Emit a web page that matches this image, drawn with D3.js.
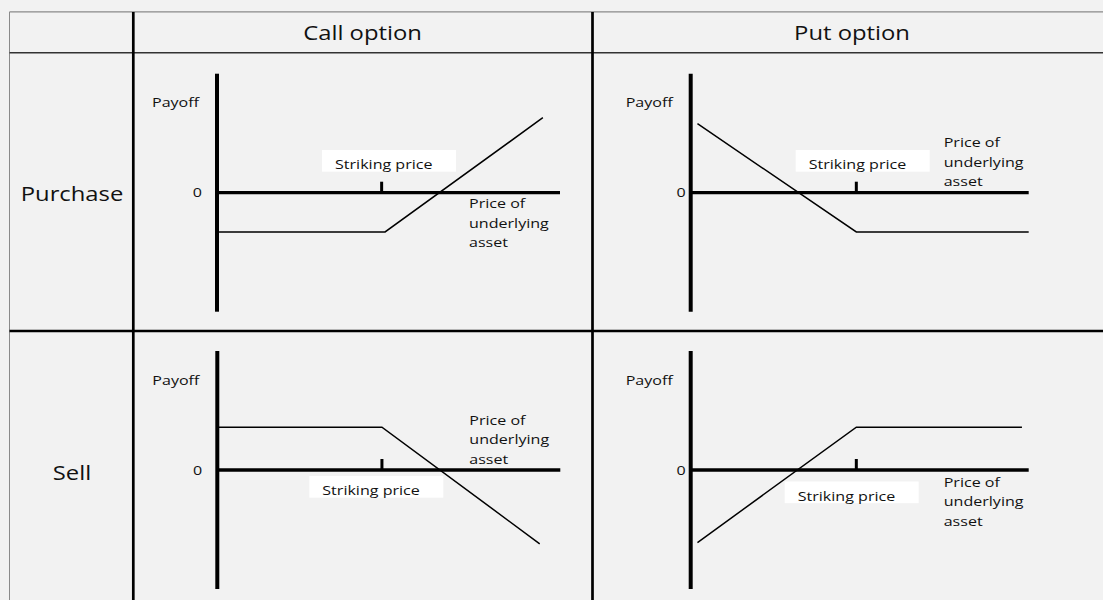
<!DOCTYPE html>
<html>
<head>
<meta charset="utf-8">
<script src="https://cdn.jsdelivr.net/npm/d3@7"></script>
<style>
    html, body { margin: 0; padding: 0; background: #f2f2f2; }
    svg { display: block; }
    text { font-family: "Open Sans", "Noto Sans", sans-serif; fill: #111; }
</style>
</head>
<body>
<svg id="chart"></svg>
<script>
// table headings
const columns = ['Call option', 'Put option'];
const rows    = ['Purchase', 'Sell'];

// payoff curves, [price, payoff] on a 0..100 / -100..100 grid
const callPurchase = [[0.6, -33], [49, -33], [95, 63]];
const putPurchase  = [[2, 58], [49, -33], [100, -33]];
const callSell     = [[0.5, 36], [48, 36], [94, -62]];
const putSell      = [[2, -61], [49, 36], [98, 36]];

// striking price on the price axis, one per panel
const strikes = [48, 49, 48, 49];

const payoffs = [callPurchase, putPurchase, callSell, putSell];

// axis texts
const yLabel      = 'Payoff';
const zeroLabel   = '0';
const strikeLabel = 'Striking price';
const xLabel      = ['Price of', 'underlying', 'asset'];

class OptionTable {
    constructor (selector) {
        this.w = 1103;
        this.h = 600;
        this.svg = d3.select(selector)
            .attr('width', this.w)
            .attr('height', this.h);

        // panel origins (where the axes cross) and label offsets
        this.layout = [
            { ox: 217,   oy: 192.7, len: 343, zero: -15, strike: { x: 105, y: -42.7 }, price: { x: 252, y: 15.6 } },
            { ox: 690.7, oy: 192.7, len: 338, zero: -5,  strike: { x: 105, y: -42.7 }, price: { x: 253, y: -45.4 } },
            { ox: 217.3, oy: 470,   len: 343, zero: -15, strike: { x: 92,  y: 6 },     price: { x: 252, y: -45 } },
            { ox: 690.7, oy: 470,   len: 338, zero: -5,  strike: { x: 94,  y: 11.5 },  price: { x: 253, y: 16.7 } },
        ];
    }
    stretchedText (g, str, x, y, size, anchor) {
        return g.append('text')
            .attr('transform', 'translate(' + x + ',' + y + ') scale(1.19,1)')
            .attr('font-size', size)
            .attr('text-anchor', anchor || 'start')
            .text(str);
    }
    drawGrid () {
        let svg = this.svg;
        let g = svg.append('g').attr('class', 'grid');

        g.append('line')
            .attr('x1', 9.5).attr('x2', this.w)
            .attr('y1', 11.9).attr('y2', 11.9)
            .attr('stroke', '#8a8a8a').attr('stroke-width', 1.3);
        g.append('line')
            .attr('x1', 9.5).attr('x2', 9.5)
            .attr('y1', 11.9).attr('y2', this.h)
            .attr('stroke', '#8a8a8a').attr('stroke-width', 1);
        g.append('line')
            .attr('x1', 9.5).attr('x2', this.w)
            .attr('y1', 52.8).attr('y2', 52.8)
            .attr('stroke', '#333').attr('stroke-width', 1.5);
        g.append('line')
            .attr('x1', 9.5).attr('x2', this.w)
            .attr('y1', 331).attr('y2', 331)
            .attr('stroke', '#000').attr('stroke-width', 2.4);

        let colX = [133.3, 592.5];
        g.selectAll('line.col')
            .data(colX)
            .enter()
            .append('line')
            .attr('class', 'col')
            .attr('x1', (d) => { return d; })
            .attr('x2', (d) => { return d; })
            .attr('y1', 11.9)
            .attr('y2', this.h)
            .attr('stroke', '#000')
            .attr('stroke-width', 2.7);

        let headX = [362.5, 852];
        columns.forEach((c, i) => {
            this.stretchedText(g, c, headX[i], 40, 20, 'middle');
        });

        let rowY = [201, 479.5];
        rows.forEach((r, i) => {
            this.stretchedText(g, r, 72, rowY[i], 20, 'middle');
        });
    }
    drawPanel (i) {
        let L = this.layout[i];
        let g = this.svg.append('g')
            .attr('class', 'panel')
            .attr('transform', 'translate(' + L.ox + ',' + L.oy + ')');

        let x = d3.scaleLinear().domain([0, 100]).range([0, L.len]);
        let y = d3.scaleLinear().domain([-100, 100]).range([119, -119]);

        // striking price box sits behind everything
        let box = g.append('g');
        box.append('rect')
            .attr('x', L.strike.x)
            .attr('y', L.strike.y)
            .attr('width', 134)
            .attr('height', 21.7)
            .attr('fill', '#ffffff');
        this.stretchedText(box, strikeLabel, L.strike.x + 13, L.strike.y + 19, 13.5);

        // axes
        g.append('line')
            .attr('x1', x(0)).attr('x2', x(0))
            .attr('y1', y(100)).attr('y2', y(-100))
            .attr('stroke', '#000').attr('stroke-width', 4);
        g.append('line')
            .attr('x1', x(0)).attr('x2', x(100))
            .attr('y1', y(0)).attr('y2', y(0))
            .attr('stroke', '#000').attr('stroke-width', 3.3);

        // strike tick
        g.append('line')
            .attr('x1', x(strikes[i])).attr('x2', x(strikes[i]))
            .attr('y1', y(0) - 11).attr('y2', y(0))
            .attr('stroke', '#000').attr('stroke-width', 3);

        // payoff
        let line = d3.line()
            .x((d) => { return x(d[0]); })
            .y((d) => { return y(d[1]); });
        g.append('path')
            .datum(payoffs[i])
            .attr('d', line)
            .attr('fill', 'none')
            .attr('stroke', '#000')
            .attr('stroke-width', 1.5);

        // labels
        this.stretchedText(g, yLabel, -65, -85.5, 13.5);
        this.stretchedText(g, zeroLabel, L.zero, y(0) + 4.5, 13.5, 'end');
        xLabel.forEach((t, k) => {
            this.stretchedText(g, t, L.price.x, L.price.y + k * 19.4, 13.5);
        });
    }
    draw () {
        this.drawGrid();
        for (let i = 0; i < payoffs.length; i++)
            this.drawPanel(i);
    }
}

new OptionTable('#chart').draw();
</script>
</body>
</html>
